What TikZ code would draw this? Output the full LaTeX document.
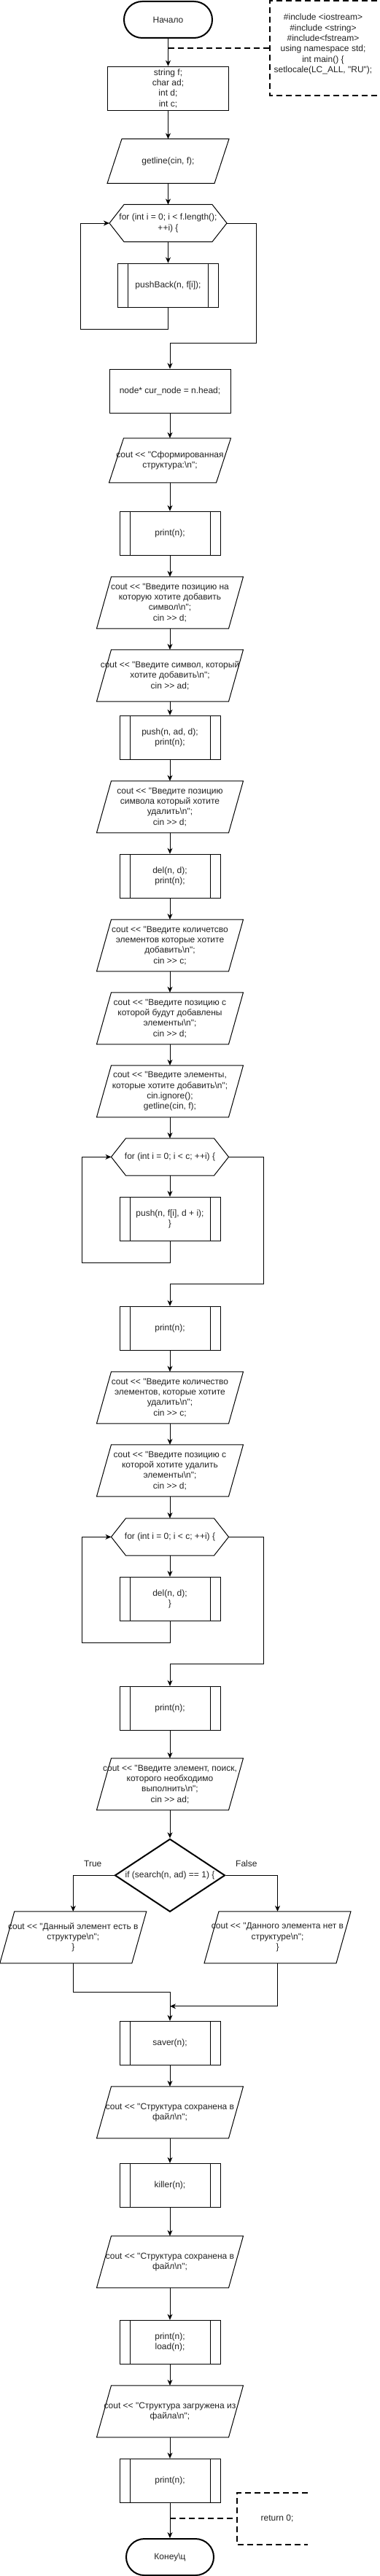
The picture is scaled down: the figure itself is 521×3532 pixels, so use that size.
\documentclass[tikz,border=0pt]{standalone}
\usepackage{fontspec}
\setmainfont{Liberation Sans}[Ligatures=TeXOff]
\usetikzlibrary{arrows.meta,shapes.geometric}
\definecolor{txt}{HTML}{222222}

\begin{document}
\begin{tikzpicture}[x=1pt, y=-1pt, line width=1pt, text=txt,
        font=\fontsize{12pt}{14.4pt}\selectfont,
        arr/.style={-{Stealth[length=8pt, width=7pt, inset=2.5pt]}},
        dline/.style={line width=2pt, dash pattern=on 8pt off 5pt},
        termbox/.style={draw, line width=2pt, rounded corners=25pt, minimum width=121pt, minimum height=50pt},
        procbox/.style={draw, minimum width=166pt, minimum height=60pt, inner sep=1pt, align=center},
        subbox/.style={draw, minimum width=138pt, minimum height=60pt, inner sep=1pt, align=center,
            path picture={\draw ([xshift=14pt]path picture bounding box.north west) -- ([xshift=14pt]path picture bounding box.south west)
                ([xshift=-14pt]path picture bounding box.north east) -- ([xshift=-14pt]path picture bounding box.south east);}},
        iobox/.style={minimum width=200pt, minimum height=70pt, inner sep=1pt, align=center,
            append after command={\pgfextra{\draw ([xshift=20pt]\tikzlastnode.north west) -- (\tikzlastnode.north east)
                -- ([xshift=-20pt]\tikzlastnode.south east) -- (\tikzlastnode.south west) -- cycle;}}},
        forbox/.style={minimum width=160pt, minimum height=50pt, inner sep=0pt, align=center,
            append after command={\pgfextra{\draw (\tikzlastnode.west) -- ([xshift=20pt]\tikzlastnode.north west)
                -- ([xshift=-20pt]\tikzlastnode.north east) -- (\tikzlastnode.east)
                -- ([xshift=-20pt]\tikzlastnode.south east) -- ([xshift=20pt]\tikzlastnode.south west) -- cycle;}}},
        ifbox/.style={draw, diamond, line width=2pt, aspect=1.51, minimum width=151pt, minimum height=100pt, inner sep=0pt},
        notebox/.style={align=center},
        lab/.style={above=11pt, inner sep=0pt}]

        \useasboundingbox (0,0) rectangle (521,3532);

        % blocks
        \node[termbox] (start) at (230.5,27) {Начало};
        \node[procbox] (vars) at (230.5,121.2) {string f;\\ char ad;\\ int d;\\ int c;};
        \node[iobox, minimum width=166pt, minimum height=60pt] (in1) at (230.5,221) {getline(cin, f);};
        \node[forbox] (for1) at (230.5,306) {for (int i = 0; i < f.length();\\ ++i) \{};
        \node[subbox] (pb) at (230.5,391.2) {pushBack(n, f[i]);};
        \node[procbox] (cur) at (233,536.2) {node* cur\_node = n.head;};
        \node[iobox, minimum width=166pt, minimum height=60pt] (out1) at (233,631.3) {cout << "Сформированная\\ структура:\textbackslash n";};
        \node[subbox] (pr1) at (233,731.3) {print(n);};
        \node[iobox] (in2) at (233,826.3) {cout << "Введите позицию на\\ которую хотите добавить\\ символ\textbackslash n";\\ cin >> d;};
        \node[iobox] (in3) at (233,926.3) {cout << "Введите символ, который\\ хотите добавить\textbackslash n";\\ cin >> ad;};
        \node[subbox] (pu1) at (233,1011.3) {push(n, ad, d);\\ print(n);};
        \node[iobox] (in4) at (233,1106.3) {cout << "Введите позицию\\ символа который хотите\\ удалить\textbackslash n";\\ cin >> d;};
        \node[subbox] (de1) at (233,1201.3) {del(n, d);\\ print(n);};
        \node[iobox] (in5) at (233,1296.3) {cout << "Введите количетсво\\ элементов которые хотите\\ добавить\textbackslash n";\\ cin >> c;};
        \node[iobox] (in6) at (233,1396.3) {cout << "Введите позицию с\\ которой будут добавлены\\ элементы\textbackslash n";\\ cin >> d;};
        \node[iobox] (in7) at (233,1496.3) {cout << "Введите элементы,\\ которые хотите добавить\textbackslash n";\\ cin.ignore();\\ getline(cin, f);};
        \node[forbox] (for2) at (233,1586.3) {for (int i = 0; i < c; ++i) \{};
        \node[subbox] (pu2) at (233,1671.3) {push(n, f[i], d + i);\\ \}};
        \node[subbox] (pr2) at (233,1821.3) {print(n);};
        \node[iobox] (in8) at (233,1916.3) {cout << "Введите количество\\ элементов, которые хотите\\ удалить\textbackslash n";\\ cin >> c;};
        \node[iobox] (in9) at (233,2016.3) {cout << "Введите позицию с\\ которой хотите удалить\\ элементы\textbackslash n";\\ cin >> d;};
        \node[forbox] (for3) at (233,2107.3) {for (int i = 0; i < c; ++i) \{};
        \node[subbox] (de2) at (233,2192.3) {del(n, d);\\ \}};
        \node[subbox] (pr3) at (233,2342.3) {print(n);};
        \node[iobox] (in10) at (233,2446.3) {cout << "Введите элемент, поиск,\\ которого необходимо\\ выполнить\textbackslash n";\\ cin >> ad;};
        \node[ifbox] (if1) at (233,2571.3) {if (search(n, ad) == 1) \{};
        \node[iobox] (yes) at (100.3,2656.3) {cout << "Данный элемент есть в\\ структуре\textbackslash n";\\ \}};
        \node[iobox] (no) at (380.5,2656.3) {cout << "Данного элемента нет в\\ структуре\textbackslash n";\\ \}};
        \node[subbox] (sav) at (233,2801.3) {saver(n);};
        \node[iobox] (in11) at (233,2896.3) {cout << "Структура сохранена в\\ файл\textbackslash n";};
        \node[subbox] (kil) at (233,2996.3) {killer(n);};
        \node[iobox] (in12) at (233,3101.3) {cout << "Структура сохранена в\\ файл\textbackslash n";};
        \node[subbox] (pl) at (233,3211.3) {print(n);\\ load(n);};
        \node[iobox] (in13) at (233,3306.3) {cout << "Структура загружена из\\ файла\textbackslash n";};
        \node[subbox] (pr4) at (233,3401.3) {print(n);};
        \node[termbox, minimum width=120pt] (fin) at (233,3506) {Конеу\textbackslash ц};

        % notes
        \node[notebox, minimum width=146pt, minimum height=129pt] (anno1) at (443,66.5) {\#include <iostream>\\ \#include <string>\\ \#include<fstream>\\ using namespace std;\\ int main() \{\\ setlocale(LC\_ALL, "RU");\\ \mbox{}};
        \node[notebox, minimum width=110pt, minimum height=70pt] (ret) at (380,3453.3) {return 0;};

        % flow
        \draw[arr] (start) -- (vars);
        \draw[arr] (vars) -- (in1);
        \draw[arr] (in1) -- (for1);
        \draw[arr] (for1) -- (pb);
        \draw[arr] (pb.south) -- ++(0,30) -| ([xshift=-40pt]for1.west) -- (for1.west);
        \draw[arr] (for1.east) -- ++(40,0) |- ([yshift=35pt]cur.north) -- (cur.north);
        \draw[arr] (cur) -- (out1);
        \draw[arr] (out1) -- (pr1);
        \draw[arr] (pr1) -- (in2);
        \draw[arr] (in2) -- (in3);
        \draw[arr] (in3) -- (pu1);
        \draw[arr] (pu1) -- (in4);
        \draw[arr] (in4) -- (de1);
        \draw[arr] (de1) -- (in5);
        \draw[arr] (in5) -- (in6);
        \draw[arr] (in6) -- (in7);
        \draw[arr] (in7) -- (for2);
        \draw[arr] (for2) -- (pu2);
        \draw[arr] (pu2.south) -- ++(0,30) -| ([xshift=-40pt]for2.west) -- (for2.west);
        \draw[arr] (for2.east) -- ++(48,0) |- ([yshift=30pt]pr2.north) -- (pr2.north);
        \draw[arr] (pr2) -- (in8);
        \draw[arr] (in8) -- (in9);
        \draw[arr] (in9) -- (for3);
        \draw[arr] (for3) -- (de2);
        \draw[arr] (de2.south) -- ++(0,30) -| ([xshift=-40pt]for3.west) -- (for3.west);
        \draw[arr] (for3.east) -- ++(48,0) |- ([yshift=30pt]pr3.north) -- (pr3.north);
        \draw[arr] (pr3) -- (in10);
        \draw[arr] (in10) -- (if1);
        \draw[arr] (if1.west) -| node[lab, pos=0.26] (tlab) {True} (yes.north);
        \draw[arr] (if1.east) -| node[lab, pos=0.2] (flab) {False} (no.north);
        \draw[arr] (yes.south) -- ++(0,40) -| (sav.north);
        \draw[arr] (no.south) |- ([yshift=20pt]sav.north);
        \draw[arr] (sav) -- (in11);
        \draw[arr] (in11) -- (kil);
        \draw[arr] (kil) -- (in12);
        \draw[arr] (in12) -- (pl);
        \draw[arr] (pl) -- (in13);
        \draw[arr] (in13) -- (pr4);
        \draw[arr] (pr4) -- (fin);

        % comments
        \coordinate (c1) at (230.5,66.5);
        \draw[dline] (c1) -- (anno1.west);
        \draw[dline] (anno1.north east) -- (anno1.north west) -- (anno1.south west) -- (anno1.south east);
        \coordinate (c2) at (233,3453.3);
        \draw[dline] (c2) -- (ret.west);
        \draw[dline] ([xshift=-14pt]ret.north east) -- (ret.north west) -- (ret.south west) -- ([xshift=-14pt]ret.south east);
    \end{tikzpicture}
\end{document}
